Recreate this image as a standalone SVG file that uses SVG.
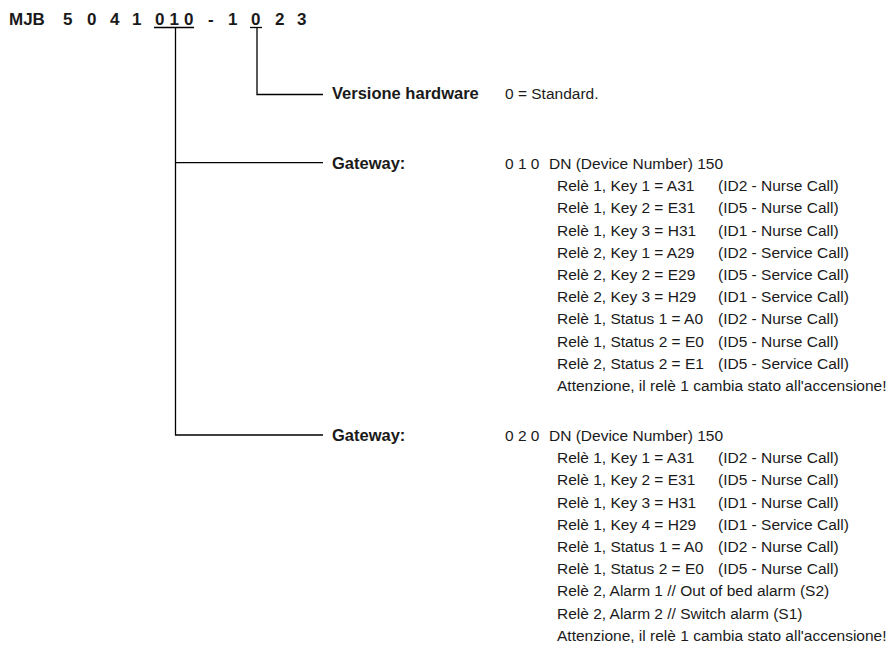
<svg xmlns="http://www.w3.org/2000/svg" width="893" height="650" viewBox="0 0 893 650">
<style>
text{font-family:"Liberation Sans",Arial,sans-serif;fill:#1a1a1a}
.t{font-size:17px;font-weight:bold}
.lb{font-size:16.5px;font-weight:bold}
.v{font-size:15.5px}
.c{stroke:#000;stroke-width:1.3;fill:none}
</style>
<rect width="893" height="650" fill="#fff"/>
<g id="title">
<text class="t" y="25"><tspan x="9">MJB </tspan><tspan x="63">5 </tspan><tspan x="87">0 </tspan><tspan x="110">4 </tspan><tspan x="132">1 </tspan><tspan x="155" letter-spacing="5">010 </tspan><tspan x="208">- </tspan><tspan x="228">1 </tspan><tspan x="251">0 </tspan><tspan x="275">2 </tspan><tspan x="297">3</tspan></text>
</g>
<g id="connectors" class="c">
<line x1="154" y1="27.5" x2="194" y2="27.5"/>
<line x1="250" y1="27.5" x2="262" y2="27.5"/>
<polyline points="257,27.5 257,94.5 323,94.5"/>
<polyline points="175.5,27.5 175.5,435 323,435"/>
<line x1="175.5" y1="162.7" x2="323" y2="162.7"/>
</g>
<g id="hardware">
<text class="lb" x="332" y="99">Versione hardware</text>
<text class="v" x="505" y="99">0 = Standard.</text>
</g>
<g id="gateway1">
<text class="lb" x="332" y="169">Gateway:</text>
<text class="v" x="505" y="169">0 1 0</text>
<text class="v" x="549" y="169">DN (Device Number) 150</text>
<g class="v">
<text class="v" x="557" y="191.2">Relè 1, Key 1 = A31</text><text class="v" x="718" y="191.2">(ID2 - Nurse Call)</text>
<text class="v" x="557" y="213.4">Relè 1, Key 2 = E31</text><text class="v" x="718" y="213.4">(ID5 - Nurse Call)</text>
<text class="v" x="557" y="235.6">Relè 1, Key 3 = H31</text><text class="v" x="718" y="235.6">(ID1 - Nurse Call)</text>
<text class="v" x="557" y="257.8">Relè 2, Key 1 = A29</text><text class="v" x="718" y="257.8">(ID2 - Service Call)</text>
<text class="v" x="557" y="280">Relè 2, Key 2 = E29</text><text class="v" x="718" y="280">(ID5 - Service Call)</text>
<text class="v" x="557" y="302.2">Relè 2, Key 3 = H29</text><text class="v" x="718" y="302.2">(ID1 - Service Call)</text>
<text class="v" x="557" y="324.4">Relè 1, Status 1 = A0</text><text class="v" x="718" y="324.4">(ID2 - Nurse Call)</text>
<text class="v" x="557" y="346.6">Relè 1, Status 2 = E0</text><text class="v" x="718" y="346.6">(ID5 - Nurse Call)</text>
<text class="v" x="557" y="368.8">Relè 2, Status 2 = E1</text><text class="v" x="718" y="368.8">(ID5 - Service Call)</text>
<text class="v" x="557" y="391">Attenzione, il relè 1 cambia stato all'accensione!</text>
</g>
</g>
<g id="gateway2">
<text class="lb" x="332" y="441">Gateway:</text>
<text class="v" x="505" y="441">0 2 0</text>
<text class="v" x="549" y="441">DN (Device Number) 150</text>
<text class="v" x="557" y="463.2">Relè 1, Key 1 = A31</text><text class="v" x="718" y="463.2">(ID2 - Nurse Call)</text>
<text class="v" x="557" y="485.4">Relè 1, Key 2 = E31</text><text class="v" x="718" y="485.4">(ID5 - Nurse Call)</text>
<text class="v" x="557" y="507.6">Relè 1, Key 3 = H31</text><text class="v" x="718" y="507.6">(ID1 - Nurse Call)</text>
<text class="v" x="557" y="529.8">Relè 1, Key 4 = H29</text><text class="v" x="718" y="529.8">(ID1 - Service Call)</text>
<text class="v" x="557" y="552">Relè 1, Status 1 = A0</text><text class="v" x="718" y="552">(ID2 - Nurse Call)</text>
<text class="v" x="557" y="574.2">Relè 1, Status 2 = E0</text><text class="v" x="718" y="574.2">(ID5 - Nurse Call)</text>
<text class="v" x="557" y="596.4">Relè 2, Alarm 1 // Out of bed alarm (S2)</text>
<text class="v" x="557" y="618.6">Relè 2, Alarm 2 // Switch alarm (S1)</text>
<text class="v" x="557" y="640.8">Attenzione, il relè 1 cambia stato all'accensione!</text>
</g>
</svg>
